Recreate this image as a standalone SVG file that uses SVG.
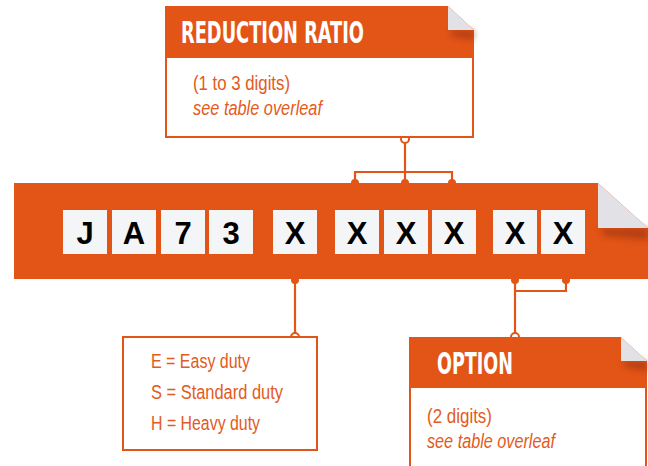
<svg xmlns="http://www.w3.org/2000/svg" width="648" height="466" viewBox="0 0 648 466">
<defs>
<style>
.or{fill:#E35417}
.fold{fill:#E2E1E6}
.cell{fill:#F4F5F7}
.cl{font-family:"Liberation Sans",Arial,sans-serif;font-weight:bold;font-size:31px;fill:#000;text-anchor:middle}
.hd{font-family:"DejaVu Sans Condensed","Liberation Sans",sans-serif;font-weight:bold;fill:#fff}
.bt{font-family:"Liberation Sans",Arial,sans-serif;font-size:19.5px;fill:#E35A22}
.it{font-style:italic}
.ln{stroke:#E35417;stroke-width:2.2;fill:none}
.dot{fill:#E35417}
.ring{fill:#fff;stroke:#E35417;stroke-width:2}
.box{fill:#fff;stroke:#E35417;stroke-width:2}
</style>
<filter id="sh" x="-50%" y="-50%" width="200%" height="200%"><feGaussianBlur stdDeviation="3"/></filter>
</defs>
<g id="connectors">
<polyline class="ln" points="405,140 405,183"/>
<polyline class="ln" points="355,183 355,172 452,172 452,183"/>
<circle class="ring" cx="405" cy="139" r="4"/>
<circle class="dot" cx="355" cy="183" r="4"/>
<circle class="dot" cx="405" cy="183" r="4"/>
<circle class="dot" cx="452" cy="183" r="4"/>
<polyline class="ln" points="295,279 295,337"/>
<circle class="dot" cx="295" cy="280" r="4"/>
<circle class="ring" cx="295" cy="337" r="4"/>
<polyline class="ln" points="515,279 515,337"/>
<polyline class="ln" points="515,291 566,291 566,279"/>
<circle class="dot" cx="515" cy="280" r="4"/>
<circle class="dot" cx="566" cy="280" r="4"/>
<circle class="ring" cx="515" cy="337" r="4"/>
</g>
<g id="reduction-ratio">
<rect class="box" x="166" y="57" width="307" height="80"/>
<polygon class="or" points="165,6 448,6 474,30 474,58 165,58"/>
<polygon points="450,30 474,30 474,40 452,36" fill="#8a2a08" opacity="0.5" filter="url(#sh)"/>
<polygon class="fold" points="448,6 448,30 474,30"/>
<text class="hd" x="181" y="43" font-size="31" textLength="183" lengthAdjust="spacingAndGlyphs">REDUCTION RATIO</text>
<text class="bt" x="193" y="90" textLength="97" lengthAdjust="spacingAndGlyphs">(1 to 3 digits)</text>
<text class="bt it" x="193" y="115" textLength="129" lengthAdjust="spacingAndGlyphs">see table overleaf</text>
</g>
<g id="code-band">
<polygon class="or" points="14,183 598,183 648,228 648,279 14,279"/>
<polygon points="600,228 648,228 648,240 604,236" fill="#8a2a08" opacity="0.5" filter="url(#sh)"/>
<polygon class="fold" points="598,183 598,228 648,228"/>
<rect class="cell" x="63" y="210" width="44" height="44"/>
<rect class="cell" x="112" y="210" width="44" height="44"/>
<rect class="cell" x="161" y="210" width="44" height="44"/>
<rect class="cell" x="209" y="210" width="44" height="44"/>
<rect class="cell" x="273" y="210" width="44" height="44"/>
<rect class="cell" x="335" y="210" width="44" height="44"/>
<rect class="cell" x="384" y="210" width="44" height="44"/>
<rect class="cell" x="432" y="210" width="44" height="44"/>
<rect class="cell" x="493" y="210" width="44" height="44"/>
<rect class="cell" x="541" y="210" width="44" height="44"/>
<text class="cl" x="85" y="244">J</text>
<text class="cl" x="134" y="244">A</text>
<text class="cl" x="183" y="244">7</text>
<text class="cl" x="231" y="244">3</text>
<text class="cl" x="295" y="244">X</text>
<text class="cl" x="357" y="244">X</text>
<text class="cl" x="406" y="244">X</text>
<text class="cl" x="454" y="244">X</text>
<text class="cl" x="515" y="244">X</text>
<text class="cl" x="563" y="244">X</text>
</g>
<g id="duty">
<rect class="box" x="123" y="337" width="194" height="113"/>
<text class="bt" x="151" y="368" textLength="99" lengthAdjust="spacingAndGlyphs">E = Easy duty</text>
<text class="bt" x="151" y="399" textLength="132" lengthAdjust="spacingAndGlyphs">S = Standard duty</text>
<text class="bt" x="151" y="430" textLength="109" lengthAdjust="spacingAndGlyphs">H = Heavy duty</text>
</g>
<g id="option">
<rect class="box" x="410" y="387" width="236" height="90"/>
<polygon class="or" points="409,337 621,337 647,361 647,388 409,388"/>
<polygon points="623,361 647,361 647,371 625,367" fill="#8a2a08" opacity="0.5" filter="url(#sh)"/>
<polygon class="fold" points="621,337 621,361 647,361"/>
<text class="hd" x="437" y="374" font-size="30" textLength="76" lengthAdjust="spacingAndGlyphs">OPTION</text>
<text class="bt" x="427" y="423" textLength="65" lengthAdjust="spacingAndGlyphs">(2 digits)</text>
<text class="bt it" x="427" y="448" textLength="128" lengthAdjust="spacingAndGlyphs">see table overleaf</text>
</g>
</svg>
